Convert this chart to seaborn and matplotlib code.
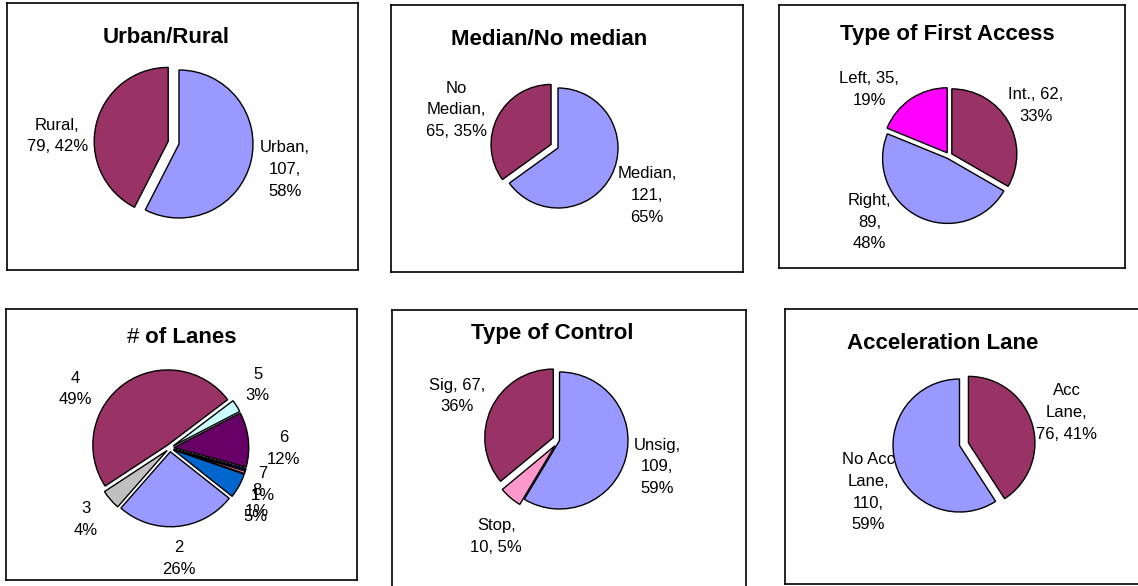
import numpy as np
import seaborn as sns
import matplotlib
matplotlib.use("Agg")
import matplotlib.pyplot as plt

W, H = 1138, 586

# ---- data ----
area_names = ["Urban", "Rural"]
area_counts = [107, 79]

median_names = ["Median", "No\nMedian"]
median_counts = [121, 65]

access_names = ["Int.", "Right", "Left"]
access_counts = [62, 89, 35]

lane_names = ["1", "2", "3", "4", "5", "6", "7", "8"]
lane_counts = [10, 48, 8, 91, 5, 22, 1, 1]

control_names = ["Unsig", "Stop", "Sig"]
control_counts = [109, 10, 67]

acc_names = ["Acc\nLane", "No Acc\nLane"]
acc_counts = [76, 110]

MAROON = "#993366"
PERI = "#9999FF"

sns.set_theme(style="white")
plt.rcParams["font.family"] = ["Liberation Sans", "DejaVu Sans"]

fig = plt.figure(figsize=(W / 100, H / 100), dpi=100)


def draw_panel(frame, center, radius, names, counts, colors, explode, start,
               fmts, dists, shifts):
    L, T, R, B = frame
    cx, cy = center
    ax = fig.add_axes([L / W, 1 - B / H, (R - L) / W, (B - T) / H])
    total = sum(counts)
    wedges, _ = ax.pie(counts, colors=colors, explode=explode, startangle=start,
                       counterclock=False,
                       wedgeprops=dict(edgecolor="black", linewidth=1, zorder=2))
    ax.set_aspect("auto")
    ax.set_xlim((L - cx) / radius, (R - cx) / radius)
    ax.set_ylim((cy - B) / radius, (cy - T) / radius)
    ax.set_frame_on(True)
    for s in ax.spines.values():
        s.set_color("black")
        s.set_linewidth(1.2)
    ax.set_xticks([])
    ax.set_yticks([])
    for w, n, c, f, d, sh in zip(wedges, names, counts, fmts, dists, shifts):
        p = round(100 * c / total)
        ang = np.deg2rad((w.theta1 + w.theta2) / 2 + sh)
        x0, y0 = w.center
        ax.text(x0 + d * np.cos(ang), y0 + d * np.sin(ang),
                f.format(n=n, c=c, p=p), ha="center", va="center",
                multialignment="center", fontsize=12, linespacing=1.55,
                color="black", zorder=1)
    return ax


def title(text, x, y):
    fig.text(x / W, 1 - y / H, text, ha="center", va="baseline",
             fontsize=16, fontweight="bold", color="black")


# Urban / Rural
draw_panel((7, 3, 358, 270), (179, 144), 74, area_names, area_counts,
           [PERI, MAROON], [0, 0.15], 90,
           ["{n},\n{c},\n{p}%", "{n},\n{c}, {p}%"], [1.47, 1.5], [0, 10.8])
title("Urban/Rural", 166, 43)

# Median / No median
draw_panel((391, 5, 743, 272), (558, 148), 60, median_names, median_counts,
           [PERI, MAROON], [0, 0.13], 90,
           ["{n},\n{c},\n{p}%", "{n},\n{c}, {p}%"], [1.68, 1.68], [-1, 7])
title("Median/No median", 549, 45)

# Type of first access
draw_panel((779, 5, 1125, 268), (949, 155.5), 65, access_names, access_counts,
           [MAROON, PERI, "#FF00FF"], [0.05, 0.05, 0.05], 90,
           ["{n}, {c},\n{p}%", "{n},\n{c},\n{p}%", "{n}, {c},\n{p}%"],
           [1.49, 1.55, 1.55], [0, -24.6, 17])
title("Type of First Access", 947, 40)

# Number of lanes
draw_panel((6, 309, 357, 580), (170, 448), 75, lane_names, lane_counts,
           ["#0066CC", PERI, "#C0C0C0", MAROON, "#CCFFFF", "#660066",
            "#000080", "#FF8080"],
           [0.05] * 8, -19, ["{n}\n{p}%"] * 8,
           [1.33, 1.43, 1.42, 1.44, 1.39, 1.47, 1.28, 1.31],
           [-5.5, -0.4, -0.6, 23.5, 3.4, -6.7, -5.4, -13.8])
t = fig.text(127 / W, 1 - 343 / H, "#", ha="left", va="baseline",
             fontsize=16, color="black")
fig.axes[-1].annotate(" of Lanes", xy=(1, 0), xycoords=t, ha="left",
                      va="bottom", fontsize=16, fontweight="bold",
                      color="black", annotation_clip=False)

# Type of control
draw_panel((392, 310, 746, 600), (559.5, 440.5), 68.5, control_names,
           control_counts, [PERI, "#FF99CC", MAROON], [0, 0.1, 0.1], 90,
           ["{n},\n{c},\n{p}%", "{n},\n{c}, {p}%", "{n}, {c},\n{p}%"],
           [1.48, 1.58, 1.53], [0.4, 7.8, 1.8])
title("Type of Control", 552, 339)

# Acceleration lane
draw_panel((785, 309, 1145, 584), (959.5, 445.5), 66.5, acc_names, acc_counts,
           [MAROON, PERI], [0.14, 0], 90,
           ["{n},\n{c}, {p}%", "{n},\n{c},\n{p}%"], [1.55, 1.54], [0.7, 10.8])
title("Acceleration Lane", 943, 349)

fig.savefig("out.png", dpi=100)
